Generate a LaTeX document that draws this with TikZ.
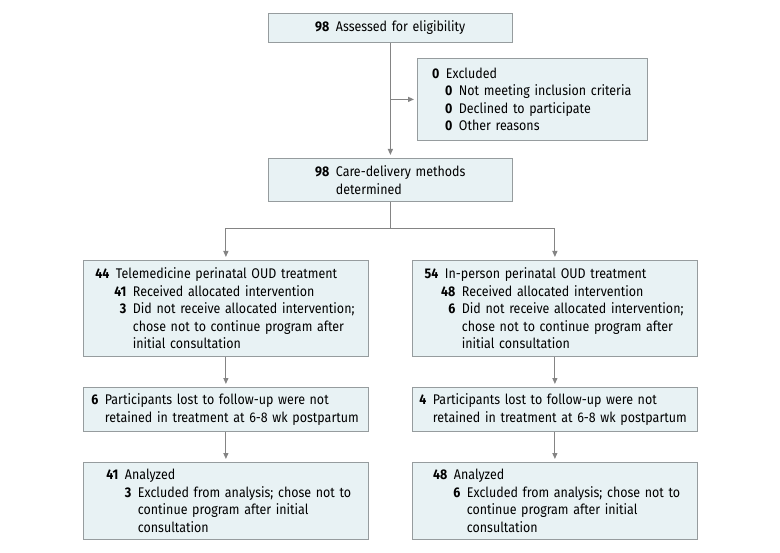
\documentclass[tikz,border=0pt]{standalone}
\usepackage{fontspec}
\setmainfont{Fira Sans}[FakeStretch=0.89]
\usepackage{xcolor}
\usepackage{tikz}
\usetikzlibrary{arrows.meta, positioning}
\definecolor{boxfill}{RGB}{232,242,244}
\definecolor{boxline}{RGB}{150,156,158}
\definecolor{linegray}{RGB}{132,132,132}
\tikzstyle{conn} = [draw=linegray, line width=1.1bp]
\tikzstyle{arrow} = [conn, -{Triangle[length=6bp,width=5bp]}, shorten >=3bp]
\newcommand{\cnt}[2]{\makebox[#1][r]{\textbf{#2}}\hspace{6.5bp}}

\begin{document}
\begin{tikzpicture}[x=1bp, y=-1bp, box/.style={draw=boxline, fill=boxfill, line width=0.8bp, anchor=north west, align=left, inner xsep=0bp, inner ysep=0bp, font=\fontsize{14bp}{17.5bp}\selectfont}, pad/.style={execute at begin node={\leftskip=#1\relax}}]
    \useasboundingbox (0,0) rectangle (780,553);
    % top of the flow
    \node[box, text width=244bp, minimum height=29bp, pad=45bp] (assess) at (268,13) {\cnt{16bp}{98}Assessed for eligibility};
    \node[box, text width=230bp, minimum height=82bp, pad=15bp] (excl) at (417,58) {\cnt{7bp}{0}Excluded\\ \cnt{20bp}{0}Not meeting inclusion criteria\\ \cnt{20bp}{0}Declined to participate\\ \cnt{20bp}{0}Other reasons};
    \node[box, text width=244bp, minimum height=43bp, pad=45bp] (care) at (268,158) {\cnt{16bp}{98}Care-delivery methods\\ \hspace*{22.5bp}determined};
    % two arms
    \node[box, text width=285bp, minimum height=96bp, pad=10bp] (oudL) at (83,260) {\cnt{16bp}{44}Telemedicine perinatal OUD treatment\\ \cnt{33bp}{41}Received allocated intervention\\ \cnt{33bp}{3}Did not receive allocated intervention;\\ \hspace*{39.5bp}chose not to continue program after\\ \hspace*{39.5bp}initial consultation};
    \node[box, text width=285bp, minimum height=96bp, pad=10bp] (oudR) at (412,260) {\cnt{16bp}{54}In-person perinatal OUD treatment\\ \cnt{33bp}{48}Received allocated intervention\\ \cnt{33bp}{6}Did not receive allocated intervention;\\ \hspace*{39.5bp}chose not to continue program after\\ \hspace*{39.5bp}initial consultation};
    \node[box, text width=285bp, minimum height=44bp, pad=8bp] (lostL) at (83,387) {\cnt{7bp}{6}Participants lost to follow-up were not\\ \hspace*{13.5bp}retained in treatment at 6-8 wk postpartum};
    \node[box, text width=285bp, minimum height=44bp, pad=7bp] (lostR) at (412,387) {\cnt{7bp}{4}Participants lost to follow-up were not\\ \hspace*{13.5bp}retained in treatment at 6-8 wk postpartum};
    \node[box, text width=285bp, minimum height=77bp, pad=19bp] (anaL) at (83,462) {\cnt{16bp}{41}Analyzed\\ \cnt{29bp}{3}Excluded from analysis; chose not to\\ \hspace*{35.5bp}continue program after initial\\ \hspace*{35.5bp}consultation};
    \node[box, text width=285bp, minimum height=77bp, pad=19bp] (anaR) at (412,462) {\cnt{16bp}{48}Analyzed\\ \cnt{29bp}{6}Excluded from analysis; chose not to\\ \hspace*{35.5bp}continue program after initial\\ \hspace*{35.5bp}consultation};
    % connectors
    \draw[arrow] (assess) -- (care);
    \draw[arrow] (assess.south |- excl.west) -- (excl.west);
    \draw[conn] (care.south) -- ++(0,27) coordinate (split);
    \draw[arrow] (split) -| (oudL.north);
    \draw[arrow] (split) -| (oudR.north);
    \draw[arrow] (oudL) -- (lostL); \draw[arrow] (lostL) -- (anaL);
    \draw[arrow] (oudR) -- (lostR); \draw[arrow] (lostR) -- (anaR);
\end{tikzpicture}
\end{document}
